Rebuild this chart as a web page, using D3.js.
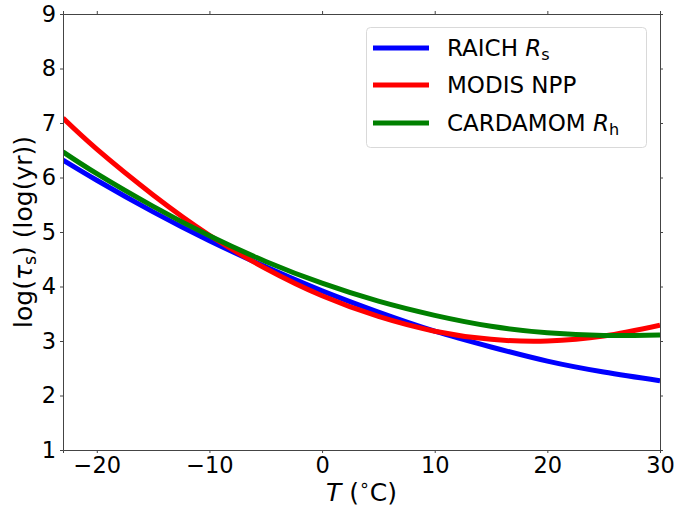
<!DOCTYPE html>
<html>
<head>
<meta charset="utf-8">
<script src="https://cdn.jsdelivr.net/npm/d3@7"></script>
<style>
  html, body { margin: 0; padding: 0; background: #fff; }
  svg { display: block; font-family: "DejaVu Sans", sans-serif; }
</style>
</head>
<body>
<svg id="chart" width="676" height="510"></svg>
<script>
// Temperature grid (°C)
const temps = [-23, -20, -15, -10, -5, 0, 5, 10, 15, 20, 25, 30];
// log(tau_s) for each data product
const raichRs = [6.32, 5.95, 5.37, 4.84, 4.36, 3.92, 3.53, 3.18, 2.89, 2.63, 2.43, 2.27];
const modisNpp = [7.09, 6.52, 5.68, 4.94, 4.33, 3.83, 3.45, 3.18, 3.03, 3.00, 3.09, 3.29];
const cardamomRh = [6.47, 6.07, 5.47, 4.93, 4.46, 4.06, 3.73, 3.47, 3.27, 3.15, 3.10, 3.11];

const xTicks = [-20, -10, 0, 10, 20, 30];
const yTicks = [1, 2, 3, 4, 5, 6, 7, 8, 9];

const series = [
  { name: "RAICH", sub: "s", italic: "R", values: raichRs, color: "#0000ff" },
  { name: "MODIS NPP", sub: null, italic: null, values: modisNpp, color: "#ff0000" },
  { name: "CARDAMOM", sub: "h", italic: "R", values: cardamomRh, color: "#008000" }
];

const svg = d3.select("#chart");
const plotL = 63, plotR = 660, plotT = 14, plotB = 450;
const fs = 22.5;      // tick labels
const fsLab = 25;     // axis titles
const fsLeg = 23;     // legend entries

const x = d3.scaleLinear().domain([-23, 30]).range([plotL, plotR]);
const y = d3.scaleLinear().domain([1, 9]).range([plotB, plotT]);

// Curves (clipped to the plot area)
svg.append("defs").append("clipPath").attr("id", "plotclip")
  .append("rect").attr("x", plotL).attr("y", plotT)
  .attr("width", plotR - plotL).attr("height", plotB - plotT);

const line = d3.line()
  .x((d, i) => x(temps[i]))
  .y(d => y(d))
  .curve(d3.curveNatural);

const g = svg.append("g").attr("clip-path", "url(#plotclip)");
series.forEach(s => {
  g.append("path")
    .attr("d", line(s.values))
    .attr("fill", "none")
    .attr("stroke", s.color)
    .attr("stroke-width", 5);
});

// Axes on all four sides with outward ticks
function styleAxis(sel) {
  sel.select(".domain").attr("stroke", "#444").attr("stroke-width", 1);
  sel.selectAll(".tick line").attr("stroke", "#444");
  sel.selectAll(".tick text")
    .attr("font-family", "DejaVu Sans, sans-serif")
    .attr("font-size", fs).attr("fill", "#000");
}

const xb = svg.append("g").attr("transform", `translate(0,${plotB})`)
  .call(d3.axisBottom(x).tickValues(xTicks).tickSize(3).tickPadding(4)
    .tickFormat(d => d < 0 ? "\u2212" + Math.abs(d) : d));
styleAxis(xb);

const xt = svg.append("g").attr("transform", `translate(0,${plotT})`)
  .call(d3.axisTop(x).tickValues(xTicks).tickSize(3).tickFormat(""));
styleAxis(xt);

const yl = svg.append("g").attr("transform", `translate(${plotL},0)`)
  .call(d3.axisLeft(y).tickValues(yTicks).tickSize(3).tickPadding(4));
styleAxis(yl);

const yr = svg.append("g").attr("transform", `translate(${plotR},0)`)
  .call(d3.axisRight(y).tickValues(yTicks).tickSize(3).tickFormat(""));
styleAxis(yr);

// Axis titles
const xl = svg.append("text")
  .attr("x", (plotL + plotR) / 2).attr("y", 501)
  .attr("text-anchor", "middle").attr("font-size", fsLab);
xl.append("tspan").attr("font-style", "italic").text("T");
xl.append("tspan").text(" (");
xl.append("tspan").attr("font-size", fsLab * 0.7).attr("dy", -10).text("\u2218");
xl.append("tspan").attr("dy", 10).text("C)");

const ylab = svg.append("text")
  .attr("transform", `translate(32,${(plotT + plotB) / 2}) rotate(-90)`)
  .attr("text-anchor", "middle").attr("font-size", fsLab);
ylab.append("tspan").text("log(");
ylab.append("tspan").attr("font-style", "italic").text("\u03c4");
ylab.append("tspan").attr("font-size", fsLab * 0.7).attr("dy", 4).text("s");
ylab.append("tspan").attr("dy", -4).text(") (log(yr))");

// Legend
const lg = svg.append("g");
lg.append("rect")
  .attr("x", 366.5).attr("y", 27.5).attr("width", 280).attr("height", 120)
  .attr("rx", 4).attr("fill", "#fff").attr("fill-opacity", 0.8)
  .attr("stroke", "#d9d9d9").attr("stroke-width", 1);

const rowY = [48, 85, 123];
series.forEach((s, i) => {
  lg.append("line")
    .attr("x1", 373).attr("x2", 429)
    .attr("y1", rowY[i]).attr("y2", rowY[i])
    .attr("stroke", s.color).attr("stroke-width", 5);
  const t = lg.append("text")
    .attr("x", 447).attr("y", rowY[i] + 8)
    .attr("font-size", fsLeg);
  t.append("tspan").text(s.name + (s.italic ? " " : ""));
  if (s.italic) {
    t.append("tspan").attr("font-style", "italic").text(s.italic);
    t.append("tspan").attr("font-size", fsLeg * 0.7).attr("dy", 4).text(s.sub);
  }
});
</script>
</body>
</html>
